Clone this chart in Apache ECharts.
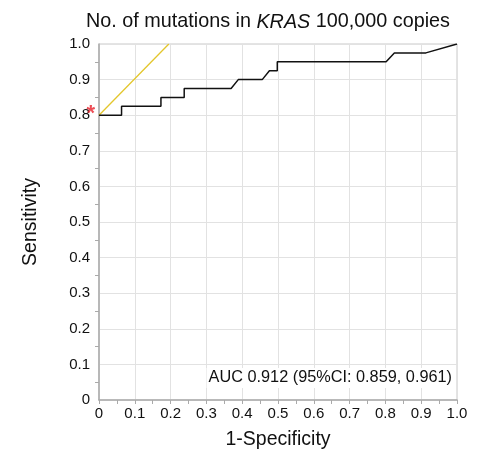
<!DOCTYPE html>
<html>
<head>
<meta charset="utf-8">
<script src="https://cdn.jsdelivr.net/npm/echarts@6/dist/echarts.min.js"></script>
<style>
  html, body { margin: 0; padding: 0; background: #fff; }
  #chart { width: 478px; height: 450px; }
</style>
</head>
<body>
<div id="chart"></div>
<script>
// ROC curve
const fpr = [0, 0.063, 0.063, 0.173, 0.173, 0.238, 0.238, 0.369, 0.389, 0.456, 0.476, 0.498, 0.498, 0.802, 0.825, 0.913, 1.0]
const tpr = [0.8, 0.8, 0.825, 0.825, 0.85, 0.85, 0.875, 0.875, 0.9, 0.9, 0.925, 0.925, 0.95, 0.95, 0.975, 0.975, 1.0]

// tangent (yellow) line through the cut-off point
const tangentX = [0, 0.195]
const tangentY = [0.8, 1.0]

// marked cut-off point
const cutoff = [0, 0.8]

const aucText = 'AUC 0.912 (95%CI: 0.859, 0.961)'

const font = 'Liberation Sans, Arial, sans-serif'
const fmt = v => (v === 0 ? '0' : v.toFixed(1))

const chart = echarts.init(document.getElementById('chart'), null, { renderer: 'canvas' })

const option = {
  animation: false,
  textStyle: { fontFamily: font },
  title: {
    text: 'No. of mutations in {i|KRAS} 100,000 copies',
    left: 81,
    top: 7,
    textStyle: {
      fontFamily: font,
      fontSize: 19.8,
      fontWeight: 'normal',
      color: '#111',
      rich: {
        i: { fontFamily: font, fontSize: 19.8, fontStyle: 'italic', color: '#111' }
      }
    }
  },
  grid: {
    left: 99,
    right: 21,
    top: 44,
    bottom: 50,
    outerBoundsMode: 'none',
    show: true,
    borderColor: '#c8c8c8',
    borderWidth: 1
  },
  xAxis: {
    type: 'value',
    min: 0,
    max: 1,
    interval: 0.1,
    name: '1-Specificity',
    nameLocation: 'middle',
    nameGap: 30,
    nameTextStyle: { fontFamily: font, fontSize: 19.5, color: '#111' },
    axisLine: { show: true, lineStyle: { color: '#aaa', width: 1.5 } },
    axisTick: { show: true, length: 4, lineStyle: { color: '#aaa' } },
    minorTick: { show: true, splitNumber: 2, length: 4, lineStyle: { color: '#aaa' } },
    axisLabel: { fontSize: 15, color: '#111', margin: 6, formatter: fmt },
    splitLine: { show: true, lineStyle: { color: '#e2e2e2' } }
  },
  yAxis: {
    type: 'value',
    min: 0,
    max: 1,
    interval: 0.1,
    name: 'Sensitivity',
    nameLocation: 'middle',
    nameGap: 58,
    nameTextStyle: { fontFamily: font, fontSize: 19.5, color: '#111' },
    axisLine: { show: true, lineStyle: { color: '#aaa', width: 1.5 } },
    axisTick: { show: false },
    minorTick: { show: true, splitNumber: 2, length: 4, lineStyle: { color: '#aaa' } },
    axisLabel: { fontSize: 15, color: '#111', margin: 9, padding: [6, 0, 0, 0], formatter: fmt },
    splitLine: { show: true, lineStyle: { color: '#e2e2e2' } }
  },
  series: [
    {
      name: 'tangent',
      type: 'line',
      data: tangentX.map((x, i) => [x, tangentY[i]]),
      showSymbol: false,
      lineStyle: { color: '#e3c62c', width: 1.3 },
      z: 2
    },
    {
      name: 'ROC',
      type: 'line',
      data: fpr.map((x, i) => [x, tpr[i]]),
      showSymbol: false,
      lineStyle: { color: '#111', width: 1.5 },
      z: 3
    },
    {
      name: 'cutoff',
      type: 'scatter',
      data: [cutoff],
      symbolSize: 0,
      label: {
        show: true,
        formatter: '*',
        position: 'left',
        offset: [1, -1],
        fontSize: 22,
        fontWeight: 'bold',
        color: '#e8212a'
      },
      z: 4
    }
  ],
  graphic: [
    {
      type: 'text',
      right: 24,
      top: 368,
      z: 10,
      style: {
        text: aucText,
        font: '16.3px ' + font,
        fill: '#111',
        backgroundColor: '#fff',
        padding: [2, 2]
      }
    }
  ]
}

chart.setOption(option)
window.addEventListener('resize', () => chart.resize())
</script>
</body>
</html>
